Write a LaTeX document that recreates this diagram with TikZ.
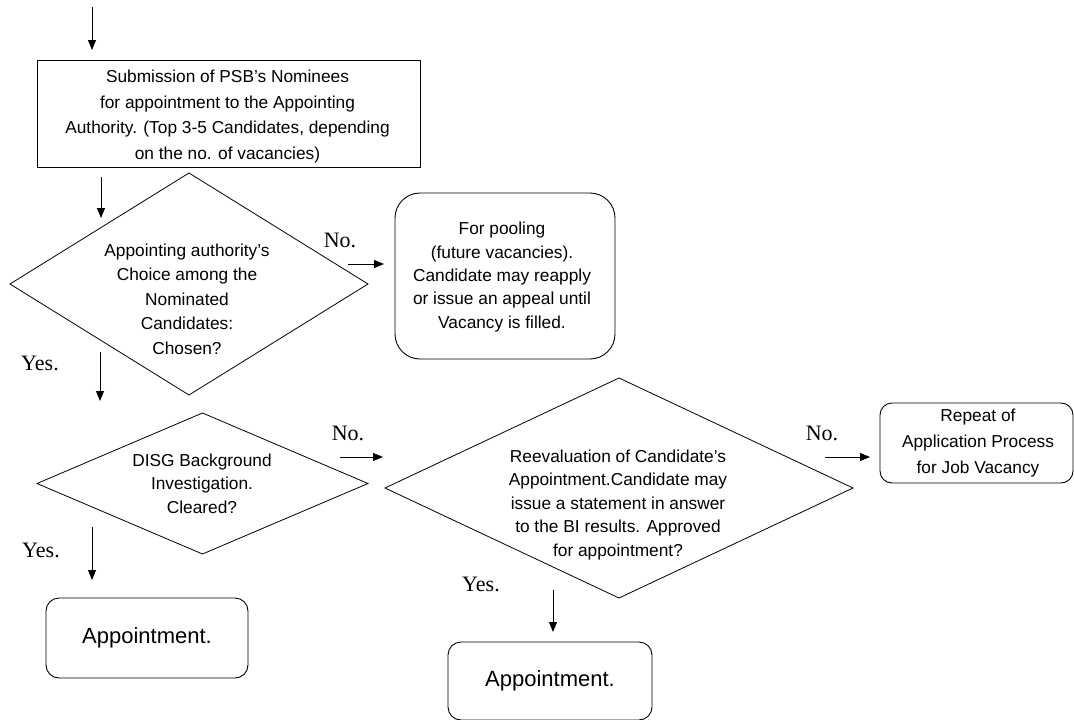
\documentclass[tikz,border=0pt]{standalone}
\usepackage{fontspec}
\setmainfont{Liberation Sans}
\newfontfamily\labfont{Liberation Serif}
\usetikzlibrary{arrows.meta,shapes.geometric}
\begin{document}
\begin{tikzpicture}[x=1pt,y=-1pt,
  every node/.style={inner sep=0pt, outer sep=0pt},
  txt/.style={align=center, font=\fontsize{17.3}{#1}\selectfont},
  txt/.default=24.5,
  big/.style={font=\fontsize{22}{26}\selectfont},
  rectbox/.style={draw, rectangle, line width=0.9pt},
  roundbox/.style={draw, rectangle, rounded corners=#1, line width=0.9pt},
  dia/.style={draw, diamond, line width=0.8pt},
  yn/.style={font=\labfont\fontsize{22}{24}\selectfont},
  arr/.style={-{Triangle[length=10pt,width=8pt]}, line width=0.9pt},
]
\useasboundingbox (0,0) rectangle (1074,720);

% boxes
\node[rectbox, minimum width=383pt, minimum height=107pt] (box1) at (228.5,113.5) {};
\node[txt=25.5] (box1t) at (227.5,116.5) {Submission of PSB's Nominees\\for appointment to the Appointing\\Authority. (Top 3-5 Candidates, depending\\on the no. of vacancies)};

\node[dia, minimum width=358pt, minimum height=222pt] (d1) at (189,284) {};
\node[txt] (d1t) at (187,299) {Appointing authority's\\Choice among the\\Nominated\\Candidates:\\Chosen?};

\node[roundbox=25pt, minimum width=220pt, minimum height=166pt] (pool) at (505,276) {};
\node[txt=23.3] (poolt) at (502,277) {For pooling\\(future vacancies).\\Candidate may reapply\\or issue an appeal until\\Vacancy is filled.};

\node[dia, minimum width=331pt, minimum height=141pt] (d2) at (202.5,483.5) {};
\node[txt=23.5] (d2t) at (202,483.5) {DISG Background\\Investigation.\\Cleared?};

\node[dia, minimum width=468pt, minimum height=220pt] (d3) at (619,488) {};
\node[txt=23.5] (d3t) at (618,505) {Reevaluation of Candidate's\\Appointment.Candidate may\\issue a statement in answer\\to the BI results. Approved\\for appointment?};

\node[roundbox=12pt, minimum width=193pt, minimum height=80pt] (rep) at (976.5,443) {};
\node[txt=26] (rept) at (978,443) {Repeat of\\Application Process\\for Job Vacancy};

\node[roundbox=13pt, minimum width=202pt, minimum height=80pt, big] (app1) at (147,638) {Appointment.};
\node[roundbox=13pt, minimum width=204pt, minimum height=78pt, big] (app2) at (550,681) {Appointment.};

% labels
\node[yn] (no1) at (340,240) {No.};
\node[yn] (yes1) at (40,363) {Yes.};
\node[yn] (no2) at (348,433) {No.};
\node[yn] (yes2) at (41,550) {Yes.};
\node[yn] (no3) at (822,433) {No.};
\node[yn] (yes3) at (481,584) {Yes.};

% arrow end points
\coordinate (a0s) at (92,7);    \coordinate (a0e) at (92,50);
\coordinate (a1s) at (101,177); \coordinate (a1e) at (101,218);
\coordinate (a2s) at (348,264); \coordinate (a2e) at (384,264);
\coordinate (a3s) at (100,352); \coordinate (a3e) at (100,401);
\coordinate (a4s) at (340,457); \coordinate (a4e) at (383,457);
\coordinate (a5s) at (92,527);  \coordinate (a5e) at (92,580);
\coordinate (a6s) at (825,457); \coordinate (a6e) at (870,457);
\coordinate (a7s) at (553,590); \coordinate (a7e) at (553,632);

\draw[arr] (a0s) -- (a0e);
\draw[arr] (a1s) -- (a1e);
\draw[arr] (a2s) -- (a2e);
\draw[arr] (a3s) -- (a3e);
\draw[arr] (a4s) -- (a4e);
\draw[arr] (a5s) -- (a5e);
\draw[arr] (a6s) -- (a6e);
\draw[arr] (a7s) -- (a7e);
\end{tikzpicture}
\end{document}
